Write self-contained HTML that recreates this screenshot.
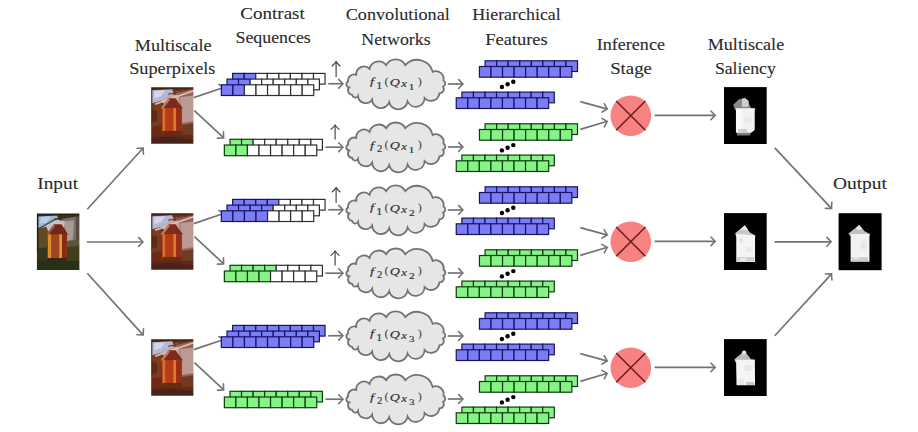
<!DOCTYPE html><html><head><meta charset="utf-8"><style>html,body{margin:0;padding:0;background:#fff;width:918px;height:432px;overflow:hidden;position:relative}</style></head><body><svg width="918" height="432" viewBox="0 0 918 432" style="position:absolute;left:0;top:0;font-family:'Liberation Serif',serif">
<defs><filter id="blur" x="-10%" y="-10%" width="120%" height="120%"><feGaussianBlur stdDeviation="0.75"/></filter><filter id="blur2" x="-20%" y="-20%" width="140%" height="140%"><feGaussianBlur stdDeviation="0.6"/></filter></defs>
<rect width="918" height="432" fill="#ffffff"/>
<text x="240.30" y="19.20" font-size="16.5" textLength="64.50" lengthAdjust="spacingAndGlyphs" fill="#2a2a2a" stroke="#2a2a2a" stroke-width="0.1" >Contrast</text>
<text x="235.50" y="43.10" font-size="16.5" textLength="75.30" lengthAdjust="spacingAndGlyphs" fill="#2a2a2a" stroke="#2a2a2a" stroke-width="0.1" >Sequences</text>
<text x="345.70" y="20.00" font-size="16.5" textLength="104.10" lengthAdjust="spacingAndGlyphs" fill="#2a2a2a" stroke="#2a2a2a" stroke-width="0.1" >Convolutional</text>
<text x="361.30" y="44.90" font-size="16.5" textLength="69.30" lengthAdjust="spacingAndGlyphs" fill="#2a2a2a" stroke="#2a2a2a" stroke-width="0.1" >Networks</text>
<text x="472.30" y="20.00" font-size="16.5" textLength="88.50" lengthAdjust="spacingAndGlyphs" fill="#2a2a2a" stroke="#2a2a2a" stroke-width="0.1" >Hierarchical</text>
<text x="485.20" y="44.70" font-size="16.5" textLength="62.50" lengthAdjust="spacingAndGlyphs" fill="#2a2a2a" stroke="#2a2a2a" stroke-width="0.1" >Features</text>
<text x="134.80" y="50.80" font-size="16.5" textLength="76.70" lengthAdjust="spacingAndGlyphs" fill="#2a2a2a" stroke="#2a2a2a" stroke-width="0.1" >Multiscale</text>
<text x="129.20" y="74.40" font-size="16.5" textLength="86.30" lengthAdjust="spacingAndGlyphs" fill="#2a2a2a" stroke="#2a2a2a" stroke-width="0.1" >Superpixels</text>
<text x="596.80" y="50.40" font-size="16.5" textLength="68.10" lengthAdjust="spacingAndGlyphs" fill="#2a2a2a" stroke="#2a2a2a" stroke-width="0.1" >Inference</text>
<text x="610.20" y="74.40" font-size="16.5" textLength="41.70" lengthAdjust="spacingAndGlyphs" fill="#2a2a2a" stroke="#2a2a2a" stroke-width="0.1" >Stage</text>
<text x="707.70" y="50.40" font-size="16.5" textLength="76.50" lengthAdjust="spacingAndGlyphs" fill="#2a2a2a" stroke="#2a2a2a" stroke-width="0.1" >Multiscale</text>
<text x="714.90" y="74.40" font-size="16.5" textLength="60.90" lengthAdjust="spacingAndGlyphs" fill="#2a2a2a" stroke="#2a2a2a" stroke-width="0.1" >Saliency</text>
<text x="37.30" y="189.00" font-size="17" textLength="40.70" lengthAdjust="spacingAndGlyphs" fill="#2a2a2a" stroke="#2a2a2a" stroke-width="0.1" >Input</text>
<text x="832.90" y="189.00" font-size="17" textLength="54.10" lengthAdjust="spacingAndGlyphs" fill="#2a2a2a" stroke="#2a2a2a" stroke-width="0.1" >Output</text>
<clipPath id="clip17"><rect x="0" y="0" width="42.5" height="57"/></clipPath>
<g transform="translate(36.90,213.50) scale(1.0000,0.9912)" clip-path="url(#clip17)"><g filter="url(#blur)">
<rect x="-2" y="-2" width="47" height="61" fill="#34341a"/>
<path d="M-2,12 L12,14 L10,34 L-2,36 Z" fill="#5e4c22"/>
<path d="M24,4 L44,2 L44,32 L30,34 L28,18 Z" fill="#7c7068"/>
<path d="M27,8 L37,7 L36,26 L30,28 Z" fill="#a89c98"/>
<rect x="39" y="-2" width="6" height="61" fill="#4a3c2c" opacity="0.7"/>
<path d="M30,28 L44,26 L44,36 L31,38 Z" fill="#5a5640"/>
<path d="M30,34 L44,32 L44,50 L30,50 Z" fill="#42401f"/>
<path d="M1,3 L20,2 L22,6 L12,13 L1,15 Z" fill="#9ab8d8"/>
<path d="M4,4 L14,3 L10,9 L3,10 Z" fill="#b6d0ea"/>
<path d="M9,12 L20,6 L28,8 L27,18 L12,20 Z" fill="#c8c0bc"/>
<path d="M-2,-2 L44,-2 L44,1.5 L-2,2 Z" fill="#2a2018"/>
<line x1="17" y1="6" x2="44" y2="1.5" stroke="#3a2c22" stroke-width="1.6"/>
<line x1="-1" y1="17" x2="18" y2="6" stroke="#4a3a2a" stroke-width="1.2"/>
<rect x="-2" y="-2" width="3.5" height="40" fill="#241c12"/>
<rect x="-2" y="48" width="47" height="11" fill="#263014"/>
<path d="M17.2,10.8 L24.6,10.8 L31.4,21.5 L9.4,21 Z" fill="#74281a"/>
<path d="M17.2,10.8 L9.4,21 L12,21 L18.5,12.5 Z" fill="#9a5a4c"/>
<rect x="10.9" y="21" width="19" height="24" fill="#9c4620"/>
<rect x="10.9" y="21" width="3.3" height="24" fill="#dc8c2c"/>
<rect x="22.4" y="21" width="2.7" height="24" fill="#e49a30"/>
<rect x="25.1" y="21" width="4.8" height="24" fill="#882c12"/>
<rect x="10.9" y="44.9" width="19" height="4" fill="#3a2612"/>
</g></g>
<clipPath id="clip42"><rect x="0" y="0" width="42.5" height="57"/></clipPath>
<g transform="translate(151.20,87.30) scale(0.9929,0.9912)" clip-path="url(#clip42)"><g filter="url(#blur)">
<rect x="-2" y="-2" width="47" height="61" fill="#6a2c18"/>
<path d="M-2,14 L11,17 L10,38 L-2,40 Z" fill="#7c3a1e"/>
<path d="M-2,22 L6,24 L6,34 L-2,36 Z" fill="#5c2c16"/>
<path d="M24,4 L44,2 L44,40 L31,42 L28,18 Z" fill="#94645a"/>
<path d="M29,10 L44,8 L44,34 L31,36 Z" fill="#bc9a94"/>
<path d="M31,38 L44,36 L44,50 L31,50 Z" fill="#703a24"/>
<path d="M1,3 L21,2 L23,6 L12,13 L1,16 Z" fill="#b4b8d8"/>
<path d="M3,4 L14,3 L10,9 L3,11 Z" fill="#d4d6ee"/>
<path d="M-2,-2 L44,-2 L44,1.5 L-2,2 Z" fill="#44200f"/>
<path d="M10,13 L20,7 L28,8 L29,18 L14,19 Z" fill="#c8a8a4"/>
<line x1="4" y1="17" x2="44" y2="3" stroke="#dcc0b8" stroke-width="1.8"/>
<line x1="17" y1="7" x2="44" y2="1" stroke="#6a3a28" stroke-width="1.2"/>
<rect x="-2" y="-2" width="3" height="40" fill="#3e1e10"/>
<rect x="-2" y="48" width="47" height="11" fill="#5e2a18"/>
<path d="M-2,51 L20,50 L44,53 L44,59 L-2,59 Z" fill="#48241a"/>
<path d="M17.5,11 L24.5,11 L32,21.5 L9.2,21.5 Z" fill="#7e2c1c"/>
<path d="M17.5,11 L9.2,21.5 L12,21.5 L18.8,12.5 Z" fill="#c08070"/>
<rect x="11.3" y="21" width="19.4" height="26" fill="#b43e18"/>
<rect x="11.3" y="21" width="2.8" height="26" fill="#dc6c30"/>
<rect x="22.4" y="21" width="2.8" height="26" fill="#e27836"/>
<rect x="25.2" y="21" width="5.5" height="26" fill="#982e14"/>
<rect x="11.3" y="44" width="19.4" height="4" fill="#6a2a12"/>
</g></g>
<g transform="translate(724.00,87.10) scale(1.0047,0.9982)">
<rect x="0" y="0" width="42.5" height="57" fill="#000"/>
<g filter="url(#blur2)">
<path d="M9.2,17.6 L14.6,12.3 L19.9,11.0 L23.6,13.9 L26.8,20.8 L31.6,21.9 L31,23 L11,23 Z" fill="#8a8a8a"/>
<path d="M17.8,12 L21,11 L24.7,14 L24,19.7 L18,19.7 Z" fill="#cfcfcf"/>
<path d="M12.4,40 L27.4,40 L26,48.5 L13,48.5 Z" fill="#7a7a7a"/>
<path d="M11.9,21.3 L30.6,21.3 L30.6,43 L27,45.8 L11.9,45.8 Z" fill="#f2f2f2"/>
<rect x="12" y="22" width="5" height="22" fill="#fafafa"/>
<rect x="20" y="30" width="7" height="6" fill="#e8e8e8"/>
<rect x="14" y="42" width="9" height="3" fill="#d0d0d0"/>
</g></g>
<clipPath id="clip78"><rect x="0" y="0" width="42.5" height="57"/></clipPath>
<g transform="translate(151.20,213.30) scale(0.9929,0.9912)" clip-path="url(#clip78)"><g filter="url(#blur)">
<rect x="-2" y="-2" width="47" height="61" fill="#6a2c18"/>
<path d="M-2,14 L11,17 L10,38 L-2,40 Z" fill="#7c3a1e"/>
<path d="M-2,22 L6,24 L6,34 L-2,36 Z" fill="#5c2c16"/>
<path d="M24,4 L44,2 L44,40 L31,42 L28,18 Z" fill="#94645a"/>
<path d="M29,10 L44,8 L44,34 L31,36 Z" fill="#bc9a94"/>
<path d="M31,38 L44,36 L44,50 L31,50 Z" fill="#703a24"/>
<path d="M1,3 L21,2 L23,6 L12,13 L1,16 Z" fill="#b4b8d8"/>
<path d="M3,4 L14,3 L10,9 L3,11 Z" fill="#d4d6ee"/>
<path d="M-2,-2 L44,-2 L44,1.5 L-2,2 Z" fill="#44200f"/>
<path d="M10,13 L20,7 L28,8 L29,18 L14,19 Z" fill="#c8a8a4"/>
<line x1="4" y1="17" x2="44" y2="3" stroke="#dcc0b8" stroke-width="1.8"/>
<line x1="17" y1="7" x2="44" y2="1" stroke="#6a3a28" stroke-width="1.2"/>
<rect x="-2" y="-2" width="3" height="40" fill="#3e1e10"/>
<rect x="-2" y="48" width="47" height="11" fill="#5e2a18"/>
<path d="M-2,51 L20,50 L44,53 L44,59 L-2,59 Z" fill="#48241a"/>
<path d="M17.5,11 L24.5,11 L32,21.5 L9.2,21.5 Z" fill="#7e2c1c"/>
<path d="M17.5,11 L9.2,21.5 L12,21.5 L18.8,12.5 Z" fill="#c08070"/>
<rect x="11.3" y="21" width="19.4" height="26" fill="#b43e18"/>
<rect x="11.3" y="21" width="2.8" height="26" fill="#dc6c30"/>
<rect x="22.4" y="21" width="2.8" height="26" fill="#e27836"/>
<rect x="25.2" y="21" width="5.5" height="26" fill="#982e14"/>
<rect x="11.3" y="44" width="19.4" height="4" fill="#6a2a12"/>
</g></g>
<g transform="translate(724.00,213.10) scale(1.0047,0.9982)">
<rect x="0" y="0" width="42.5" height="57" fill="#000"/>
<g filter="url(#blur2)">
<path d="M11.1,20.1 L20.7,12.1 L25.5,19.1 L31.4,22.8 L30.9,24 L12.2,24 Z" fill="#c8c8c8"/>
<path d="M16,17 L20.7,12.1 L24,17 Z" fill="#eaeaea"/>
<path d="M12.2,20.8 L30.9,22.5 L30.9,48.9 L12.2,48.9 Z" fill="#f4f4f4"/>
<rect x="15" y="25" width="4" height="5" fill="#e6e6e6"/>
<rect x="22" y="34" width="6" height="5" fill="#eaeaea"/>
<rect x="13" y="44" width="17" height="4.5" fill="#d0d0d0"/>
<rect x="16" y="45" width="6" height="3" fill="#e8e8e8"/>
</g></g>
<clipPath id="clip114"><rect x="0" y="0" width="42.5" height="57"/></clipPath>
<g transform="translate(151.20,339.30) scale(0.9929,0.9912)" clip-path="url(#clip114)"><g filter="url(#blur)">
<rect x="-2" y="-2" width="47" height="61" fill="#6a2c18"/>
<path d="M-2,14 L11,17 L10,38 L-2,40 Z" fill="#7c3a1e"/>
<path d="M-2,22 L6,24 L6,34 L-2,36 Z" fill="#5c2c16"/>
<path d="M24,4 L44,2 L44,40 L31,42 L28,18 Z" fill="#94645a"/>
<path d="M29,10 L44,8 L44,34 L31,36 Z" fill="#bc9a94"/>
<path d="M31,38 L44,36 L44,50 L31,50 Z" fill="#703a24"/>
<path d="M1,3 L21,2 L23,6 L12,13 L1,16 Z" fill="#b4b8d8"/>
<path d="M3,4 L14,3 L10,9 L3,11 Z" fill="#d4d6ee"/>
<path d="M-2,-2 L44,-2 L44,1.5 L-2,2 Z" fill="#44200f"/>
<path d="M10,13 L20,7 L28,8 L29,18 L14,19 Z" fill="#c8a8a4"/>
<line x1="4" y1="17" x2="44" y2="3" stroke="#dcc0b8" stroke-width="1.8"/>
<line x1="17" y1="7" x2="44" y2="1" stroke="#6a3a28" stroke-width="1.2"/>
<rect x="-2" y="-2" width="3" height="40" fill="#3e1e10"/>
<rect x="-2" y="48" width="47" height="11" fill="#5e2a18"/>
<path d="M-2,51 L20,50 L44,53 L44,59 L-2,59 Z" fill="#48241a"/>
<path d="M17.5,11 L24.5,11 L32,21.5 L9.2,21.5 Z" fill="#7e2c1c"/>
<path d="M17.5,11 L9.2,21.5 L12,21.5 L18.8,12.5 Z" fill="#c08070"/>
<rect x="11.3" y="21" width="19.4" height="26" fill="#b43e18"/>
<rect x="11.3" y="21" width="2.8" height="26" fill="#dc6c30"/>
<rect x="22.4" y="21" width="2.8" height="26" fill="#e27836"/>
<rect x="25.2" y="21" width="5.5" height="26" fill="#982e14"/>
<rect x="11.3" y="44" width="19.4" height="4" fill="#6a2a12"/>
</g></g>
<g transform="translate(724.00,339.10) scale(1.0047,0.9982)">
<rect x="0" y="0" width="42.5" height="57" fill="#000"/>
<g filter="url(#blur2)">
<path d="M10.4,20.2 L20,12.2 L22,14 L26.9,20.2 L30.7,20.7 L30.7,23 L11,23 Z" fill="#bcbcbc"/>
<circle cx="20" cy="13.5" r="2.2" fill="#e0e0e0"/>
<path d="M12,20.7 L30.7,20.7 L30.9,46.3 L12.5,46.3 Z" fill="#f4f4f4"/>
<rect x="20" y="26" width="7" height="6" fill="#e8e8e8"/>
<rect x="14" y="40" width="6" height="6" fill="#eaeaea"/>
<rect x="22" y="43" width="8" height="3" fill="#c8c8c8"/>
</g></g>
<g transform="translate(838.60,213.20) scale(1.0118,1.0000)">
<rect x="0" y="0" width="42.5" height="57" fill="#000"/>
<g filter="url(#blur2)">
<path d="M9.7,20.3 L20.4,11.7 L25.7,18.1 L31,20.8 L30.5,23 L11.9,23 Z" fill="#c0c0c0"/>
<path d="M17,15 L20.4,11.7 L23.5,15.5 L20,17 Z" fill="#e6e6e6"/>
<path d="M11.9,20.8 L30.5,20.8 L30.5,48.5 L11.9,48.5 Z" fill="#f2f2f2"/>
<rect x="22" y="28" width="6" height="8" fill="#e8e8e8"/>
<rect x="13" y="44" width="16" height="4" fill="#cccccc"/>
<rect x="15" y="44" width="5" height="2" fill="#e6e6e6"/>
</g></g>
<line x1="87.30" y1="209.20" x2="142.76" y2="148.51" stroke="#737373" stroke-width="1.7"/>
<path transform="translate(143.16,148.07) rotate(-47.58)" d="M-4.3,-4.4 Q-1.4,-1.3 0,0 Q-1.4,1.3 -4.3,4.4" fill="none" stroke="#737373" stroke-width="1.55" stroke-linecap="round"/>
<line x1="86.90" y1="242.00" x2="142.40" y2="242.00" stroke="#737373" stroke-width="1.7"/>
<path transform="translate(143.00,242.00) rotate(0.00)" d="M-4.3,-4.4 Q-1.4,-1.3 0,0 Q-1.4,1.3 -4.3,4.4" fill="none" stroke="#737373" stroke-width="1.55" stroke-linecap="round"/>
<line x1="87.30" y1="273.30" x2="142.76" y2="334.58" stroke="#737373" stroke-width="1.7"/>
<path transform="translate(143.16,335.03) rotate(47.86)" d="M-4.3,-4.4 Q-1.4,-1.3 0,0 Q-1.4,1.3 -4.3,4.4" fill="none" stroke="#737373" stroke-width="1.55" stroke-linecap="round"/>
<line x1="193.70" y1="97.60" x2="223.76" y2="87.55" stroke="#737373" stroke-width="1.7"/>
<path transform="translate(224.33,87.36) rotate(-18.49)" d="M-4.3,-4.4 Q-1.4,-1.3 0,0 Q-1.4,1.3 -4.3,4.4" fill="none" stroke="#737373" stroke-width="1.55" stroke-linecap="round"/>
<line x1="194.40" y1="110.60" x2="223.20" y2="137.45" stroke="#737373" stroke-width="1.7"/>
<path transform="translate(223.63,137.86) rotate(43.00)" d="M-4.3,-4.4 Q-1.4,-1.3 0,0 Q-1.4,1.3 -4.3,4.4" fill="none" stroke="#737373" stroke-width="1.55" stroke-linecap="round"/>
<rect x="232.65" y="73.40" width="11.55" height="10.70" fill="#7c7cf6" stroke="#141462" stroke-width="1.2"/>
<rect x="244.20" y="73.40" width="11.55" height="10.70" fill="#7c7cf6" stroke="#141462" stroke-width="1.2"/>
<rect x="255.75" y="73.40" width="11.55" height="10.70" fill="#ffffff" stroke="#2e2e2e" stroke-width="1.2"/>
<rect x="267.30" y="73.40" width="11.55" height="10.70" fill="#ffffff" stroke="#2e2e2e" stroke-width="1.2"/>
<rect x="278.85" y="73.40" width="11.55" height="10.70" fill="#ffffff" stroke="#2e2e2e" stroke-width="1.2"/>
<rect x="290.40" y="73.40" width="11.55" height="10.70" fill="#ffffff" stroke="#2e2e2e" stroke-width="1.2"/>
<rect x="301.95" y="73.40" width="11.55" height="10.70" fill="#ffffff" stroke="#2e2e2e" stroke-width="1.2"/>
<rect x="313.50" y="73.40" width="11.55" height="10.70" fill="#ffffff" stroke="#2e2e2e" stroke-width="1.2"/>
<rect x="227.00" y="79.10" width="11.55" height="10.70" fill="#7c7cf6" stroke="#141462" stroke-width="1.2"/>
<rect x="238.55" y="79.10" width="11.55" height="10.70" fill="#7c7cf6" stroke="#141462" stroke-width="1.2"/>
<rect x="250.10" y="79.10" width="11.55" height="10.70" fill="#ffffff" stroke="#2e2e2e" stroke-width="1.2"/>
<rect x="261.65" y="79.10" width="11.55" height="10.70" fill="#ffffff" stroke="#2e2e2e" stroke-width="1.2"/>
<rect x="273.20" y="79.10" width="11.55" height="10.70" fill="#ffffff" stroke="#2e2e2e" stroke-width="1.2"/>
<rect x="284.75" y="79.10" width="11.55" height="10.70" fill="#ffffff" stroke="#2e2e2e" stroke-width="1.2"/>
<rect x="296.30" y="79.10" width="11.55" height="10.70" fill="#ffffff" stroke="#2e2e2e" stroke-width="1.2"/>
<rect x="307.85" y="79.10" width="11.55" height="10.70" fill="#ffffff" stroke="#2e2e2e" stroke-width="1.2"/>
<rect x="221.35" y="84.80" width="11.55" height="10.70" fill="#7c7cf6" stroke="#141462" stroke-width="1.2"/>
<rect x="232.90" y="84.80" width="11.55" height="10.70" fill="#7c7cf6" stroke="#141462" stroke-width="1.2"/>
<rect x="244.45" y="84.80" width="11.55" height="10.70" fill="#ffffff" stroke="#2e2e2e" stroke-width="1.2"/>
<rect x="256.00" y="84.80" width="11.55" height="10.70" fill="#ffffff" stroke="#2e2e2e" stroke-width="1.2"/>
<rect x="267.55" y="84.80" width="11.55" height="10.70" fill="#ffffff" stroke="#2e2e2e" stroke-width="1.2"/>
<rect x="279.10" y="84.80" width="11.55" height="10.70" fill="#ffffff" stroke="#2e2e2e" stroke-width="1.2"/>
<rect x="290.65" y="84.80" width="11.55" height="10.70" fill="#ffffff" stroke="#2e2e2e" stroke-width="1.2"/>
<rect x="302.20" y="84.80" width="11.55" height="10.70" fill="#ffffff" stroke="#2e2e2e" stroke-width="1.2"/>
<rect x="230.00" y="139.30" width="11.55" height="10.70" fill="#86f386" stroke="#0f3a0f" stroke-width="1.2"/>
<rect x="241.55" y="139.30" width="11.55" height="10.70" fill="#86f386" stroke="#0f3a0f" stroke-width="1.2"/>
<rect x="253.10" y="139.30" width="11.55" height="10.70" fill="#ffffff" stroke="#2e2e2e" stroke-width="1.2"/>
<rect x="264.65" y="139.30" width="11.55" height="10.70" fill="#ffffff" stroke="#2e2e2e" stroke-width="1.2"/>
<rect x="276.20" y="139.30" width="11.55" height="10.70" fill="#ffffff" stroke="#2e2e2e" stroke-width="1.2"/>
<rect x="287.75" y="139.30" width="11.55" height="10.70" fill="#ffffff" stroke="#2e2e2e" stroke-width="1.2"/>
<rect x="299.30" y="139.30" width="11.55" height="10.70" fill="#ffffff" stroke="#2e2e2e" stroke-width="1.2"/>
<rect x="310.85" y="139.30" width="11.55" height="10.70" fill="#ffffff" stroke="#2e2e2e" stroke-width="1.2"/>
<rect x="224.35" y="145.00" width="11.55" height="10.70" fill="#86f386" stroke="#0f3a0f" stroke-width="1.2"/>
<rect x="235.90" y="145.00" width="11.55" height="10.70" fill="#86f386" stroke="#0f3a0f" stroke-width="1.2"/>
<rect x="247.45" y="145.00" width="11.55" height="10.70" fill="#ffffff" stroke="#2e2e2e" stroke-width="1.2"/>
<rect x="259.00" y="145.00" width="11.55" height="10.70" fill="#ffffff" stroke="#2e2e2e" stroke-width="1.2"/>
<rect x="270.55" y="145.00" width="11.55" height="10.70" fill="#ffffff" stroke="#2e2e2e" stroke-width="1.2"/>
<rect x="282.10" y="145.00" width="11.55" height="10.70" fill="#ffffff" stroke="#2e2e2e" stroke-width="1.2"/>
<rect x="293.65" y="145.00" width="11.55" height="10.70" fill="#ffffff" stroke="#2e2e2e" stroke-width="1.2"/>
<rect x="305.20" y="145.00" width="11.55" height="10.70" fill="#ffffff" stroke="#2e2e2e" stroke-width="1.2"/>
<line x1="336.1" y1="76.9" x2="336.1" y2="62.1" stroke="#383838" stroke-width="1.1"/>
<path transform="translate(336.1,61.6)" d="M-4.0,4.4 Q-1.2,1.8 0,0 Q1.2,1.8 4.0,4.4" fill="none" stroke="#383838" stroke-width="1.1" stroke-linecap="round"/>
<line x1="335.1" y1="139.6" x2="335.1" y2="125.5" stroke="#383838" stroke-width="1.1"/>
<path transform="translate(335.1,125.0)" d="M-4.0,4.4 Q-1.2,1.8 0,0 Q1.2,1.8 4.0,4.4" fill="none" stroke="#383838" stroke-width="1.1" stroke-linecap="round"/>
<line x1="328.20" y1="83.75" x2="342.40" y2="83.75" stroke="#737373" stroke-width="1.7"/>
<path transform="translate(343.00,83.75) rotate(0.00)" d="M-4.3,-4.4 Q-1.4,-1.3 0,0 Q-1.4,1.3 -4.3,4.4" fill="none" stroke="#737373" stroke-width="1.55" stroke-linecap="round"/>
<line x1="325.40" y1="147.20" x2="342.40" y2="147.20" stroke="#737373" stroke-width="1.7"/>
<path transform="translate(343.00,147.20) rotate(0.00)" d="M-4.3,-4.4 Q-1.4,-1.3 0,0 Q-1.4,1.3 -4.3,4.4" fill="none" stroke="#737373" stroke-width="1.55" stroke-linecap="round"/>
<path d="M348.10,81.50 A6.10,6.10 0 0 1 356.20,74.80 A7.83,7.83 0 0 1 369.60,68.80 A9.40,9.40 0 0 1 386.20,65.10 A10.85,10.85 0 0 1 405.30,65.10 A16.04,16.04 0 0 1 432.70,71.80 A7.82,7.82 0 0 1 443.50,80.50 A3.41,3.41 0 0 1 443.10,86.70 A4.18,4.18 0 0 1 439.40,93.30 A8.55,8.55 0 0 1 424.60,98.10 A8.89,8.89 0 0 1 407.60,101.50 A9.40,9.40 0 0 1 389.20,102.20 A8.79,8.79 0 0 1 372.10,99.60 A7.66,7.66 0 0 1 358.00,95.90 A3.15,3.15 0 0 1 352.10,94.80 A4.41,4.41 0 0 1 349.20,87.40 A3.11,3.11 0 0 1 348.10,81.50 Z" fill="#e6e6e6" stroke="#737373" stroke-width="1.8"/>
<text transform="translate(370.05,85.40) scale(0.1455,0.1022)" font-size="100" font-style="italic" fill="#333333" stroke="#333333" stroke-width="1.5">f</text>
<text transform="translate(376.37,88.60) scale(0.1211,0.1000)" font-size="100" fill="#333333" stroke="#333333" stroke-width="1.5">1</text>
<text transform="translate(384.84,85.38) scale(0.1020,0.1033)" font-size="100" fill="#333333" stroke="#333333" stroke-width="1.5">(</text>
<text transform="translate(389.73,85.52) scale(0.1400,0.1110)" font-size="100" font-style="italic" fill="#333333" stroke="#333333" stroke-width="1.5">Q</text>
<text transform="translate(401.19,87.30) scale(0.1289,0.0935)" font-size="100" font-style="italic" fill="#333333" stroke="#333333" stroke-width="1.5">x</text>
<text transform="translate(408.30,90.30) scale(0.1296,0.0848)" font-size="100" fill="#333333" stroke="#333333" stroke-width="1.5">1</text>
<text transform="translate(418.30,85.38) scale(0.1000,0.1033)" font-size="100" fill="#333333" stroke="#333333" stroke-width="1.5">)</text>
<path d="M348.10,144.60 A6.10,6.10 0 0 1 356.20,137.90 A7.83,7.83 0 0 1 369.60,131.90 A9.40,9.40 0 0 1 386.20,128.20 A10.85,10.85 0 0 1 405.30,128.20 A16.04,16.04 0 0 1 432.70,134.90 A7.82,7.82 0 0 1 443.50,143.60 A3.41,3.41 0 0 1 443.10,149.80 A4.18,4.18 0 0 1 439.40,156.40 A8.55,8.55 0 0 1 424.60,161.20 A8.89,8.89 0 0 1 407.60,164.60 A9.40,9.40 0 0 1 389.20,165.30 A8.79,8.79 0 0 1 372.10,162.70 A7.66,7.66 0 0 1 358.00,159.00 A3.15,3.15 0 0 1 352.10,157.90 A4.41,4.41 0 0 1 349.20,150.50 A3.11,3.11 0 0 1 348.10,144.60 Z" fill="#e6e6e6" stroke="#737373" stroke-width="1.8"/>
<text transform="translate(370.05,148.50) scale(0.1455,0.1022)" font-size="100" font-style="italic" fill="#333333" stroke="#333333" stroke-width="1.5">f</text>
<text transform="translate(376.92,151.70) scale(0.1075,0.1000)" font-size="100" fill="#333333" stroke="#333333" stroke-width="1.5">2</text>
<text transform="translate(384.84,148.48) scale(0.1020,0.1033)" font-size="100" fill="#333333" stroke="#333333" stroke-width="1.5">(</text>
<text transform="translate(389.73,148.62) scale(0.1400,0.1110)" font-size="100" font-style="italic" fill="#333333" stroke="#333333" stroke-width="1.5">Q</text>
<text transform="translate(401.19,150.40) scale(0.1289,0.0935)" font-size="100" font-style="italic" fill="#333333" stroke="#333333" stroke-width="1.5">x</text>
<text transform="translate(408.30,153.40) scale(0.1296,0.0848)" font-size="100" fill="#333333" stroke="#333333" stroke-width="1.5">1</text>
<text transform="translate(418.30,148.48) scale(0.1000,0.1033)" font-size="100" fill="#333333" stroke="#333333" stroke-width="1.5">)</text>
<line x1="447.80" y1="84.00" x2="462.40" y2="84.00" stroke="#737373" stroke-width="1.7"/>
<path transform="translate(463.00,84.00) rotate(0.00)" d="M-4.3,-4.4 Q-1.4,-1.3 0,0 Q-1.4,1.3 -4.3,4.4" fill="none" stroke="#737373" stroke-width="1.55" stroke-linecap="round"/>
<line x1="447.80" y1="147.00" x2="462.40" y2="147.00" stroke="#737373" stroke-width="1.7"/>
<path transform="translate(463.00,147.00) rotate(0.00)" d="M-4.3,-4.4 Q-1.4,-1.3 0,0 Q-1.4,1.3 -4.3,4.4" fill="none" stroke="#737373" stroke-width="1.55" stroke-linecap="round"/>
<rect x="485.10" y="60.80" width="11.55" height="10.70" fill="#7c7cf6" stroke="#141462" stroke-width="1.2"/>
<rect x="496.65" y="60.80" width="11.55" height="10.70" fill="#7c7cf6" stroke="#141462" stroke-width="1.2"/>
<rect x="508.20" y="60.80" width="11.55" height="10.70" fill="#7c7cf6" stroke="#141462" stroke-width="1.2"/>
<rect x="519.75" y="60.80" width="11.55" height="10.70" fill="#7c7cf6" stroke="#141462" stroke-width="1.2"/>
<rect x="531.30" y="60.80" width="11.55" height="10.70" fill="#7c7cf6" stroke="#141462" stroke-width="1.2"/>
<rect x="542.85" y="60.80" width="11.55" height="10.70" fill="#7c7cf6" stroke="#141462" stroke-width="1.2"/>
<rect x="554.40" y="60.80" width="11.55" height="10.70" fill="#7c7cf6" stroke="#141462" stroke-width="1.2"/>
<rect x="565.95" y="60.80" width="11.55" height="10.70" fill="#7c7cf6" stroke="#141462" stroke-width="1.2"/>
<rect x="479.45" y="66.50" width="11.55" height="10.70" fill="#7c7cf6" stroke="#141462" stroke-width="1.2"/>
<rect x="491.00" y="66.50" width="11.55" height="10.70" fill="#7c7cf6" stroke="#141462" stroke-width="1.2"/>
<rect x="502.55" y="66.50" width="11.55" height="10.70" fill="#7c7cf6" stroke="#141462" stroke-width="1.2"/>
<rect x="514.10" y="66.50" width="11.55" height="10.70" fill="#7c7cf6" stroke="#141462" stroke-width="1.2"/>
<rect x="525.65" y="66.50" width="11.55" height="10.70" fill="#7c7cf6" stroke="#141462" stroke-width="1.2"/>
<rect x="537.20" y="66.50" width="11.55" height="10.70" fill="#7c7cf6" stroke="#141462" stroke-width="1.2"/>
<rect x="548.75" y="66.50" width="11.55" height="10.70" fill="#7c7cf6" stroke="#141462" stroke-width="1.2"/>
<rect x="560.30" y="66.50" width="11.55" height="10.70" fill="#7c7cf6" stroke="#141462" stroke-width="1.2"/>
<rect x="461.90" y="92.10" width="11.55" height="10.70" fill="#7c7cf6" stroke="#141462" stroke-width="1.2"/>
<rect x="473.45" y="92.10" width="11.55" height="10.70" fill="#7c7cf6" stroke="#141462" stroke-width="1.2"/>
<rect x="485.00" y="92.10" width="11.55" height="10.70" fill="#7c7cf6" stroke="#141462" stroke-width="1.2"/>
<rect x="496.55" y="92.10" width="11.55" height="10.70" fill="#7c7cf6" stroke="#141462" stroke-width="1.2"/>
<rect x="508.10" y="92.10" width="11.55" height="10.70" fill="#7c7cf6" stroke="#141462" stroke-width="1.2"/>
<rect x="519.65" y="92.10" width="11.55" height="10.70" fill="#7c7cf6" stroke="#141462" stroke-width="1.2"/>
<rect x="531.20" y="92.10" width="11.55" height="10.70" fill="#7c7cf6" stroke="#141462" stroke-width="1.2"/>
<rect x="542.75" y="92.10" width="11.55" height="10.70" fill="#7c7cf6" stroke="#141462" stroke-width="1.2"/>
<rect x="456.25" y="97.80" width="11.55" height="10.70" fill="#7c7cf6" stroke="#141462" stroke-width="1.2"/>
<rect x="467.80" y="97.80" width="11.55" height="10.70" fill="#7c7cf6" stroke="#141462" stroke-width="1.2"/>
<rect x="479.35" y="97.80" width="11.55" height="10.70" fill="#7c7cf6" stroke="#141462" stroke-width="1.2"/>
<rect x="490.90" y="97.80" width="11.55" height="10.70" fill="#7c7cf6" stroke="#141462" stroke-width="1.2"/>
<rect x="502.45" y="97.80" width="11.55" height="10.70" fill="#7c7cf6" stroke="#141462" stroke-width="1.2"/>
<rect x="514.00" y="97.80" width="11.55" height="10.70" fill="#7c7cf6" stroke="#141462" stroke-width="1.2"/>
<rect x="525.55" y="97.80" width="11.55" height="10.70" fill="#7c7cf6" stroke="#141462" stroke-width="1.2"/>
<rect x="537.10" y="97.80" width="11.55" height="10.70" fill="#7c7cf6" stroke="#141462" stroke-width="1.2"/>
<rect x="485.10" y="123.80" width="11.55" height="10.70" fill="#86f386" stroke="#0f3a0f" stroke-width="1.2"/>
<rect x="496.65" y="123.80" width="11.55" height="10.70" fill="#86f386" stroke="#0f3a0f" stroke-width="1.2"/>
<rect x="508.20" y="123.80" width="11.55" height="10.70" fill="#86f386" stroke="#0f3a0f" stroke-width="1.2"/>
<rect x="519.75" y="123.80" width="11.55" height="10.70" fill="#86f386" stroke="#0f3a0f" stroke-width="1.2"/>
<rect x="531.30" y="123.80" width="11.55" height="10.70" fill="#86f386" stroke="#0f3a0f" stroke-width="1.2"/>
<rect x="542.85" y="123.80" width="11.55" height="10.70" fill="#86f386" stroke="#0f3a0f" stroke-width="1.2"/>
<rect x="554.40" y="123.80" width="11.55" height="10.70" fill="#86f386" stroke="#0f3a0f" stroke-width="1.2"/>
<rect x="565.95" y="123.80" width="11.55" height="10.70" fill="#86f386" stroke="#0f3a0f" stroke-width="1.2"/>
<rect x="479.45" y="129.50" width="11.55" height="10.70" fill="#86f386" stroke="#0f3a0f" stroke-width="1.2"/>
<rect x="491.00" y="129.50" width="11.55" height="10.70" fill="#86f386" stroke="#0f3a0f" stroke-width="1.2"/>
<rect x="502.55" y="129.50" width="11.55" height="10.70" fill="#86f386" stroke="#0f3a0f" stroke-width="1.2"/>
<rect x="514.10" y="129.50" width="11.55" height="10.70" fill="#86f386" stroke="#0f3a0f" stroke-width="1.2"/>
<rect x="525.65" y="129.50" width="11.55" height="10.70" fill="#86f386" stroke="#0f3a0f" stroke-width="1.2"/>
<rect x="537.20" y="129.50" width="11.55" height="10.70" fill="#86f386" stroke="#0f3a0f" stroke-width="1.2"/>
<rect x="548.75" y="129.50" width="11.55" height="10.70" fill="#86f386" stroke="#0f3a0f" stroke-width="1.2"/>
<rect x="560.30" y="129.50" width="11.55" height="10.70" fill="#86f386" stroke="#0f3a0f" stroke-width="1.2"/>
<rect x="461.90" y="155.10" width="11.55" height="10.70" fill="#86f386" stroke="#0f3a0f" stroke-width="1.2"/>
<rect x="473.45" y="155.10" width="11.55" height="10.70" fill="#86f386" stroke="#0f3a0f" stroke-width="1.2"/>
<rect x="485.00" y="155.10" width="11.55" height="10.70" fill="#86f386" stroke="#0f3a0f" stroke-width="1.2"/>
<rect x="496.55" y="155.10" width="11.55" height="10.70" fill="#86f386" stroke="#0f3a0f" stroke-width="1.2"/>
<rect x="508.10" y="155.10" width="11.55" height="10.70" fill="#86f386" stroke="#0f3a0f" stroke-width="1.2"/>
<rect x="519.65" y="155.10" width="11.55" height="10.70" fill="#86f386" stroke="#0f3a0f" stroke-width="1.2"/>
<rect x="531.20" y="155.10" width="11.55" height="10.70" fill="#86f386" stroke="#0f3a0f" stroke-width="1.2"/>
<rect x="542.75" y="155.10" width="11.55" height="10.70" fill="#86f386" stroke="#0f3a0f" stroke-width="1.2"/>
<rect x="456.25" y="160.80" width="11.55" height="10.70" fill="#86f386" stroke="#0f3a0f" stroke-width="1.2"/>
<rect x="467.80" y="160.80" width="11.55" height="10.70" fill="#86f386" stroke="#0f3a0f" stroke-width="1.2"/>
<rect x="479.35" y="160.80" width="11.55" height="10.70" fill="#86f386" stroke="#0f3a0f" stroke-width="1.2"/>
<rect x="490.90" y="160.80" width="11.55" height="10.70" fill="#86f386" stroke="#0f3a0f" stroke-width="1.2"/>
<rect x="502.45" y="160.80" width="11.55" height="10.70" fill="#86f386" stroke="#0f3a0f" stroke-width="1.2"/>
<rect x="514.00" y="160.80" width="11.55" height="10.70" fill="#86f386" stroke="#0f3a0f" stroke-width="1.2"/>
<rect x="525.55" y="160.80" width="11.55" height="10.70" fill="#86f386" stroke="#0f3a0f" stroke-width="1.2"/>
<rect x="537.10" y="160.80" width="11.55" height="10.70" fill="#86f386" stroke="#0f3a0f" stroke-width="1.2"/>
<circle cx="501.9" cy="87.00" r="2.2" fill="#000"/>
<circle cx="507.6" cy="84.30" r="2.2" fill="#000"/>
<circle cx="513.3" cy="81.70" r="2.2" fill="#000"/>
<circle cx="501.9" cy="150.40" r="2.2" fill="#000"/>
<circle cx="507.6" cy="147.70" r="2.2" fill="#000"/>
<circle cx="513.3" cy="145.10" r="2.2" fill="#000"/>
<line x1="580.30" y1="101.60" x2="606.64" y2="108.81" stroke="#737373" stroke-width="1.7"/>
<path transform="translate(607.22,108.97) rotate(15.31)" d="M-4.3,-4.4 Q-1.4,-1.3 0,0 Q-1.4,1.3 -4.3,4.4" fill="none" stroke="#737373" stroke-width="1.55" stroke-linecap="round"/>
<line x1="580.30" y1="129.40" x2="606.65" y2="121.56" stroke="#737373" stroke-width="1.7"/>
<path transform="translate(607.22,121.39) rotate(-16.56)" d="M-4.3,-4.4 Q-1.4,-1.3 0,0 Q-1.4,1.3 -4.3,4.4" fill="none" stroke="#737373" stroke-width="1.55" stroke-linecap="round"/>
<circle cx="630.8" cy="115.7" r="20.3" fill="#f88282"/>
<line x1="616.18" y1="101.08" x2="645.42" y2="130.32" stroke="#6e1c1c" stroke-width="1.5"/>
<line x1="645.42" y1="101.08" x2="616.18" y2="130.32" stroke="#6e1c1c" stroke-width="1.5"/>
<line x1="654.60" y1="115.40" x2="714.60" y2="115.40" stroke="#737373" stroke-width="1.7"/>
<path transform="translate(715.20,115.40) rotate(0.00)" d="M-4.3,-4.4 Q-1.4,-1.3 0,0 Q-1.4,1.3 -4.3,4.4" fill="none" stroke="#737373" stroke-width="1.55" stroke-linecap="round"/>
<line x1="193.70" y1="223.60" x2="223.76" y2="213.55" stroke="#737373" stroke-width="1.7"/>
<path transform="translate(224.33,213.36) rotate(-18.49)" d="M-4.3,-4.4 Q-1.4,-1.3 0,0 Q-1.4,1.3 -4.3,4.4" fill="none" stroke="#737373" stroke-width="1.55" stroke-linecap="round"/>
<line x1="194.40" y1="236.60" x2="223.20" y2="263.45" stroke="#737373" stroke-width="1.7"/>
<path transform="translate(223.63,263.86) rotate(43.00)" d="M-4.3,-4.4 Q-1.4,-1.3 0,0 Q-1.4,1.3 -4.3,4.4" fill="none" stroke="#737373" stroke-width="1.55" stroke-linecap="round"/>
<rect x="232.65" y="199.40" width="11.55" height="10.70" fill="#7c7cf6" stroke="#141462" stroke-width="1.2"/>
<rect x="244.20" y="199.40" width="11.55" height="10.70" fill="#7c7cf6" stroke="#141462" stroke-width="1.2"/>
<rect x="255.75" y="199.40" width="11.55" height="10.70" fill="#7c7cf6" stroke="#141462" stroke-width="1.2"/>
<rect x="267.30" y="199.40" width="11.55" height="10.70" fill="#7c7cf6" stroke="#141462" stroke-width="1.2"/>
<rect x="278.85" y="199.40" width="11.55" height="10.70" fill="#ffffff" stroke="#2e2e2e" stroke-width="1.2"/>
<rect x="290.40" y="199.40" width="11.55" height="10.70" fill="#ffffff" stroke="#2e2e2e" stroke-width="1.2"/>
<rect x="301.95" y="199.40" width="11.55" height="10.70" fill="#ffffff" stroke="#2e2e2e" stroke-width="1.2"/>
<rect x="313.50" y="199.40" width="11.55" height="10.70" fill="#ffffff" stroke="#2e2e2e" stroke-width="1.2"/>
<rect x="227.00" y="205.10" width="11.55" height="10.70" fill="#7c7cf6" stroke="#141462" stroke-width="1.2"/>
<rect x="238.55" y="205.10" width="11.55" height="10.70" fill="#7c7cf6" stroke="#141462" stroke-width="1.2"/>
<rect x="250.10" y="205.10" width="11.55" height="10.70" fill="#7c7cf6" stroke="#141462" stroke-width="1.2"/>
<rect x="261.65" y="205.10" width="11.55" height="10.70" fill="#7c7cf6" stroke="#141462" stroke-width="1.2"/>
<rect x="273.20" y="205.10" width="11.55" height="10.70" fill="#ffffff" stroke="#2e2e2e" stroke-width="1.2"/>
<rect x="284.75" y="205.10" width="11.55" height="10.70" fill="#ffffff" stroke="#2e2e2e" stroke-width="1.2"/>
<rect x="296.30" y="205.10" width="11.55" height="10.70" fill="#ffffff" stroke="#2e2e2e" stroke-width="1.2"/>
<rect x="307.85" y="205.10" width="11.55" height="10.70" fill="#ffffff" stroke="#2e2e2e" stroke-width="1.2"/>
<rect x="221.35" y="210.80" width="11.55" height="10.70" fill="#7c7cf6" stroke="#141462" stroke-width="1.2"/>
<rect x="232.90" y="210.80" width="11.55" height="10.70" fill="#7c7cf6" stroke="#141462" stroke-width="1.2"/>
<rect x="244.45" y="210.80" width="11.55" height="10.70" fill="#7c7cf6" stroke="#141462" stroke-width="1.2"/>
<rect x="256.00" y="210.80" width="11.55" height="10.70" fill="#7c7cf6" stroke="#141462" stroke-width="1.2"/>
<rect x="267.55" y="210.80" width="11.55" height="10.70" fill="#ffffff" stroke="#2e2e2e" stroke-width="1.2"/>
<rect x="279.10" y="210.80" width="11.55" height="10.70" fill="#ffffff" stroke="#2e2e2e" stroke-width="1.2"/>
<rect x="290.65" y="210.80" width="11.55" height="10.70" fill="#ffffff" stroke="#2e2e2e" stroke-width="1.2"/>
<rect x="302.20" y="210.80" width="11.55" height="10.70" fill="#ffffff" stroke="#2e2e2e" stroke-width="1.2"/>
<rect x="230.00" y="265.30" width="11.55" height="10.70" fill="#86f386" stroke="#0f3a0f" stroke-width="1.2"/>
<rect x="241.55" y="265.30" width="11.55" height="10.70" fill="#86f386" stroke="#0f3a0f" stroke-width="1.2"/>
<rect x="253.10" y="265.30" width="11.55" height="10.70" fill="#86f386" stroke="#0f3a0f" stroke-width="1.2"/>
<rect x="264.65" y="265.30" width="11.55" height="10.70" fill="#86f386" stroke="#0f3a0f" stroke-width="1.2"/>
<rect x="276.20" y="265.30" width="11.55" height="10.70" fill="#ffffff" stroke="#2e2e2e" stroke-width="1.2"/>
<rect x="287.75" y="265.30" width="11.55" height="10.70" fill="#ffffff" stroke="#2e2e2e" stroke-width="1.2"/>
<rect x="299.30" y="265.30" width="11.55" height="10.70" fill="#ffffff" stroke="#2e2e2e" stroke-width="1.2"/>
<rect x="310.85" y="265.30" width="11.55" height="10.70" fill="#ffffff" stroke="#2e2e2e" stroke-width="1.2"/>
<rect x="224.35" y="271.00" width="11.55" height="10.70" fill="#86f386" stroke="#0f3a0f" stroke-width="1.2"/>
<rect x="235.90" y="271.00" width="11.55" height="10.70" fill="#86f386" stroke="#0f3a0f" stroke-width="1.2"/>
<rect x="247.45" y="271.00" width="11.55" height="10.70" fill="#86f386" stroke="#0f3a0f" stroke-width="1.2"/>
<rect x="259.00" y="271.00" width="11.55" height="10.70" fill="#86f386" stroke="#0f3a0f" stroke-width="1.2"/>
<rect x="270.55" y="271.00" width="11.55" height="10.70" fill="#ffffff" stroke="#2e2e2e" stroke-width="1.2"/>
<rect x="282.10" y="271.00" width="11.55" height="10.70" fill="#ffffff" stroke="#2e2e2e" stroke-width="1.2"/>
<rect x="293.65" y="271.00" width="11.55" height="10.70" fill="#ffffff" stroke="#2e2e2e" stroke-width="1.2"/>
<rect x="305.20" y="271.00" width="11.55" height="10.70" fill="#ffffff" stroke="#2e2e2e" stroke-width="1.2"/>
<line x1="336.1" y1="202.9" x2="336.1" y2="188.1" stroke="#383838" stroke-width="1.1"/>
<path transform="translate(336.1,187.6)" d="M-4.0,4.4 Q-1.2,1.8 0,0 Q1.2,1.8 4.0,4.4" fill="none" stroke="#383838" stroke-width="1.1" stroke-linecap="round"/>
<line x1="335.1" y1="265.6" x2="335.1" y2="251.5" stroke="#383838" stroke-width="1.1"/>
<path transform="translate(335.1,251.0)" d="M-4.0,4.4 Q-1.2,1.8 0,0 Q1.2,1.8 4.0,4.4" fill="none" stroke="#383838" stroke-width="1.1" stroke-linecap="round"/>
<line x1="328.20" y1="209.75" x2="342.40" y2="209.75" stroke="#737373" stroke-width="1.7"/>
<path transform="translate(343.00,209.75) rotate(0.00)" d="M-4.3,-4.4 Q-1.4,-1.3 0,0 Q-1.4,1.3 -4.3,4.4" fill="none" stroke="#737373" stroke-width="1.55" stroke-linecap="round"/>
<line x1="325.40" y1="273.20" x2="342.40" y2="273.20" stroke="#737373" stroke-width="1.7"/>
<path transform="translate(343.00,273.20) rotate(0.00)" d="M-4.3,-4.4 Q-1.4,-1.3 0,0 Q-1.4,1.3 -4.3,4.4" fill="none" stroke="#737373" stroke-width="1.55" stroke-linecap="round"/>
<path d="M348.10,207.50 A6.10,6.10 0 0 1 356.20,200.80 A7.83,7.83 0 0 1 369.60,194.80 A9.40,9.40 0 0 1 386.20,191.10 A10.85,10.85 0 0 1 405.30,191.10 A16.04,16.04 0 0 1 432.70,197.80 A7.82,7.82 0 0 1 443.50,206.50 A3.41,3.41 0 0 1 443.10,212.70 A4.18,4.18 0 0 1 439.40,219.30 A8.55,8.55 0 0 1 424.60,224.10 A8.89,8.89 0 0 1 407.60,227.50 A9.40,9.40 0 0 1 389.20,228.20 A8.79,8.79 0 0 1 372.10,225.60 A7.66,7.66 0 0 1 358.00,221.90 A3.15,3.15 0 0 1 352.10,220.80 A4.41,4.41 0 0 1 349.20,213.40 A3.11,3.11 0 0 1 348.10,207.50 Z" fill="#e6e6e6" stroke="#737373" stroke-width="1.8"/>
<text transform="translate(370.05,211.40) scale(0.1455,0.1022)" font-size="100" font-style="italic" fill="#333333" stroke="#333333" stroke-width="1.5">f</text>
<text transform="translate(376.37,214.60) scale(0.1211,0.1000)" font-size="100" fill="#333333" stroke="#333333" stroke-width="1.5">1</text>
<text transform="translate(384.84,211.38) scale(0.1020,0.1033)" font-size="100" fill="#333333" stroke="#333333" stroke-width="1.5">(</text>
<text transform="translate(389.73,211.52) scale(0.1400,0.1110)" font-size="100" font-style="italic" fill="#333333" stroke="#333333" stroke-width="1.5">Q</text>
<text transform="translate(401.19,213.30) scale(0.1289,0.0935)" font-size="100" font-style="italic" fill="#333333" stroke="#333333" stroke-width="1.5">x</text>
<text transform="translate(408.88,216.30) scale(0.1150,0.0848)" font-size="100" fill="#333333" stroke="#333333" stroke-width="1.5">2</text>
<text transform="translate(418.30,211.38) scale(0.1000,0.1033)" font-size="100" fill="#333333" stroke="#333333" stroke-width="1.5">)</text>
<path d="M348.10,270.60 A6.10,6.10 0 0 1 356.20,263.90 A7.83,7.83 0 0 1 369.60,257.90 A9.40,9.40 0 0 1 386.20,254.20 A10.85,10.85 0 0 1 405.30,254.20 A16.04,16.04 0 0 1 432.70,260.90 A7.82,7.82 0 0 1 443.50,269.60 A3.41,3.41 0 0 1 443.10,275.80 A4.18,4.18 0 0 1 439.40,282.40 A8.55,8.55 0 0 1 424.60,287.20 A8.89,8.89 0 0 1 407.60,290.60 A9.40,9.40 0 0 1 389.20,291.30 A8.79,8.79 0 0 1 372.10,288.70 A7.66,7.66 0 0 1 358.00,285.00 A3.15,3.15 0 0 1 352.10,283.90 A4.41,4.41 0 0 1 349.20,276.50 A3.11,3.11 0 0 1 348.10,270.60 Z" fill="#e6e6e6" stroke="#737373" stroke-width="1.8"/>
<text transform="translate(370.05,274.50) scale(0.1455,0.1022)" font-size="100" font-style="italic" fill="#333333" stroke="#333333" stroke-width="1.5">f</text>
<text transform="translate(376.92,277.70) scale(0.1075,0.1000)" font-size="100" fill="#333333" stroke="#333333" stroke-width="1.5">2</text>
<text transform="translate(384.84,274.48) scale(0.1020,0.1033)" font-size="100" fill="#333333" stroke="#333333" stroke-width="1.5">(</text>
<text transform="translate(389.73,274.62) scale(0.1400,0.1110)" font-size="100" font-style="italic" fill="#333333" stroke="#333333" stroke-width="1.5">Q</text>
<text transform="translate(401.19,276.40) scale(0.1289,0.0935)" font-size="100" font-style="italic" fill="#333333" stroke="#333333" stroke-width="1.5">x</text>
<text transform="translate(408.88,279.40) scale(0.1150,0.0848)" font-size="100" fill="#333333" stroke="#333333" stroke-width="1.5">2</text>
<text transform="translate(418.30,274.48) scale(0.1000,0.1033)" font-size="100" fill="#333333" stroke="#333333" stroke-width="1.5">)</text>
<line x1="447.80" y1="210.00" x2="462.40" y2="210.00" stroke="#737373" stroke-width="1.7"/>
<path transform="translate(463.00,210.00) rotate(0.00)" d="M-4.3,-4.4 Q-1.4,-1.3 0,0 Q-1.4,1.3 -4.3,4.4" fill="none" stroke="#737373" stroke-width="1.55" stroke-linecap="round"/>
<line x1="447.80" y1="273.00" x2="462.40" y2="273.00" stroke="#737373" stroke-width="1.7"/>
<path transform="translate(463.00,273.00) rotate(0.00)" d="M-4.3,-4.4 Q-1.4,-1.3 0,0 Q-1.4,1.3 -4.3,4.4" fill="none" stroke="#737373" stroke-width="1.55" stroke-linecap="round"/>
<rect x="485.10" y="186.80" width="11.55" height="10.70" fill="#7c7cf6" stroke="#141462" stroke-width="1.2"/>
<rect x="496.65" y="186.80" width="11.55" height="10.70" fill="#7c7cf6" stroke="#141462" stroke-width="1.2"/>
<rect x="508.20" y="186.80" width="11.55" height="10.70" fill="#7c7cf6" stroke="#141462" stroke-width="1.2"/>
<rect x="519.75" y="186.80" width="11.55" height="10.70" fill="#7c7cf6" stroke="#141462" stroke-width="1.2"/>
<rect x="531.30" y="186.80" width="11.55" height="10.70" fill="#7c7cf6" stroke="#141462" stroke-width="1.2"/>
<rect x="542.85" y="186.80" width="11.55" height="10.70" fill="#7c7cf6" stroke="#141462" stroke-width="1.2"/>
<rect x="554.40" y="186.80" width="11.55" height="10.70" fill="#7c7cf6" stroke="#141462" stroke-width="1.2"/>
<rect x="565.95" y="186.80" width="11.55" height="10.70" fill="#7c7cf6" stroke="#141462" stroke-width="1.2"/>
<rect x="479.45" y="192.50" width="11.55" height="10.70" fill="#7c7cf6" stroke="#141462" stroke-width="1.2"/>
<rect x="491.00" y="192.50" width="11.55" height="10.70" fill="#7c7cf6" stroke="#141462" stroke-width="1.2"/>
<rect x="502.55" y="192.50" width="11.55" height="10.70" fill="#7c7cf6" stroke="#141462" stroke-width="1.2"/>
<rect x="514.10" y="192.50" width="11.55" height="10.70" fill="#7c7cf6" stroke="#141462" stroke-width="1.2"/>
<rect x="525.65" y="192.50" width="11.55" height="10.70" fill="#7c7cf6" stroke="#141462" stroke-width="1.2"/>
<rect x="537.20" y="192.50" width="11.55" height="10.70" fill="#7c7cf6" stroke="#141462" stroke-width="1.2"/>
<rect x="548.75" y="192.50" width="11.55" height="10.70" fill="#7c7cf6" stroke="#141462" stroke-width="1.2"/>
<rect x="560.30" y="192.50" width="11.55" height="10.70" fill="#7c7cf6" stroke="#141462" stroke-width="1.2"/>
<rect x="461.90" y="218.10" width="11.55" height="10.70" fill="#7c7cf6" stroke="#141462" stroke-width="1.2"/>
<rect x="473.45" y="218.10" width="11.55" height="10.70" fill="#7c7cf6" stroke="#141462" stroke-width="1.2"/>
<rect x="485.00" y="218.10" width="11.55" height="10.70" fill="#7c7cf6" stroke="#141462" stroke-width="1.2"/>
<rect x="496.55" y="218.10" width="11.55" height="10.70" fill="#7c7cf6" stroke="#141462" stroke-width="1.2"/>
<rect x="508.10" y="218.10" width="11.55" height="10.70" fill="#7c7cf6" stroke="#141462" stroke-width="1.2"/>
<rect x="519.65" y="218.10" width="11.55" height="10.70" fill="#7c7cf6" stroke="#141462" stroke-width="1.2"/>
<rect x="531.20" y="218.10" width="11.55" height="10.70" fill="#7c7cf6" stroke="#141462" stroke-width="1.2"/>
<rect x="542.75" y="218.10" width="11.55" height="10.70" fill="#7c7cf6" stroke="#141462" stroke-width="1.2"/>
<rect x="456.25" y="223.80" width="11.55" height="10.70" fill="#7c7cf6" stroke="#141462" stroke-width="1.2"/>
<rect x="467.80" y="223.80" width="11.55" height="10.70" fill="#7c7cf6" stroke="#141462" stroke-width="1.2"/>
<rect x="479.35" y="223.80" width="11.55" height="10.70" fill="#7c7cf6" stroke="#141462" stroke-width="1.2"/>
<rect x="490.90" y="223.80" width="11.55" height="10.70" fill="#7c7cf6" stroke="#141462" stroke-width="1.2"/>
<rect x="502.45" y="223.80" width="11.55" height="10.70" fill="#7c7cf6" stroke="#141462" stroke-width="1.2"/>
<rect x="514.00" y="223.80" width="11.55" height="10.70" fill="#7c7cf6" stroke="#141462" stroke-width="1.2"/>
<rect x="525.55" y="223.80" width="11.55" height="10.70" fill="#7c7cf6" stroke="#141462" stroke-width="1.2"/>
<rect x="537.10" y="223.80" width="11.55" height="10.70" fill="#7c7cf6" stroke="#141462" stroke-width="1.2"/>
<rect x="485.10" y="249.80" width="11.55" height="10.70" fill="#86f386" stroke="#0f3a0f" stroke-width="1.2"/>
<rect x="496.65" y="249.80" width="11.55" height="10.70" fill="#86f386" stroke="#0f3a0f" stroke-width="1.2"/>
<rect x="508.20" y="249.80" width="11.55" height="10.70" fill="#86f386" stroke="#0f3a0f" stroke-width="1.2"/>
<rect x="519.75" y="249.80" width="11.55" height="10.70" fill="#86f386" stroke="#0f3a0f" stroke-width="1.2"/>
<rect x="531.30" y="249.80" width="11.55" height="10.70" fill="#86f386" stroke="#0f3a0f" stroke-width="1.2"/>
<rect x="542.85" y="249.80" width="11.55" height="10.70" fill="#86f386" stroke="#0f3a0f" stroke-width="1.2"/>
<rect x="554.40" y="249.80" width="11.55" height="10.70" fill="#86f386" stroke="#0f3a0f" stroke-width="1.2"/>
<rect x="565.95" y="249.80" width="11.55" height="10.70" fill="#86f386" stroke="#0f3a0f" stroke-width="1.2"/>
<rect x="479.45" y="255.50" width="11.55" height="10.70" fill="#86f386" stroke="#0f3a0f" stroke-width="1.2"/>
<rect x="491.00" y="255.50" width="11.55" height="10.70" fill="#86f386" stroke="#0f3a0f" stroke-width="1.2"/>
<rect x="502.55" y="255.50" width="11.55" height="10.70" fill="#86f386" stroke="#0f3a0f" stroke-width="1.2"/>
<rect x="514.10" y="255.50" width="11.55" height="10.70" fill="#86f386" stroke="#0f3a0f" stroke-width="1.2"/>
<rect x="525.65" y="255.50" width="11.55" height="10.70" fill="#86f386" stroke="#0f3a0f" stroke-width="1.2"/>
<rect x="537.20" y="255.50" width="11.55" height="10.70" fill="#86f386" stroke="#0f3a0f" stroke-width="1.2"/>
<rect x="548.75" y="255.50" width="11.55" height="10.70" fill="#86f386" stroke="#0f3a0f" stroke-width="1.2"/>
<rect x="560.30" y="255.50" width="11.55" height="10.70" fill="#86f386" stroke="#0f3a0f" stroke-width="1.2"/>
<rect x="461.90" y="281.10" width="11.55" height="10.70" fill="#86f386" stroke="#0f3a0f" stroke-width="1.2"/>
<rect x="473.45" y="281.10" width="11.55" height="10.70" fill="#86f386" stroke="#0f3a0f" stroke-width="1.2"/>
<rect x="485.00" y="281.10" width="11.55" height="10.70" fill="#86f386" stroke="#0f3a0f" stroke-width="1.2"/>
<rect x="496.55" y="281.10" width="11.55" height="10.70" fill="#86f386" stroke="#0f3a0f" stroke-width="1.2"/>
<rect x="508.10" y="281.10" width="11.55" height="10.70" fill="#86f386" stroke="#0f3a0f" stroke-width="1.2"/>
<rect x="519.65" y="281.10" width="11.55" height="10.70" fill="#86f386" stroke="#0f3a0f" stroke-width="1.2"/>
<rect x="531.20" y="281.10" width="11.55" height="10.70" fill="#86f386" stroke="#0f3a0f" stroke-width="1.2"/>
<rect x="542.75" y="281.10" width="11.55" height="10.70" fill="#86f386" stroke="#0f3a0f" stroke-width="1.2"/>
<rect x="456.25" y="286.80" width="11.55" height="10.70" fill="#86f386" stroke="#0f3a0f" stroke-width="1.2"/>
<rect x="467.80" y="286.80" width="11.55" height="10.70" fill="#86f386" stroke="#0f3a0f" stroke-width="1.2"/>
<rect x="479.35" y="286.80" width="11.55" height="10.70" fill="#86f386" stroke="#0f3a0f" stroke-width="1.2"/>
<rect x="490.90" y="286.80" width="11.55" height="10.70" fill="#86f386" stroke="#0f3a0f" stroke-width="1.2"/>
<rect x="502.45" y="286.80" width="11.55" height="10.70" fill="#86f386" stroke="#0f3a0f" stroke-width="1.2"/>
<rect x="514.00" y="286.80" width="11.55" height="10.70" fill="#86f386" stroke="#0f3a0f" stroke-width="1.2"/>
<rect x="525.55" y="286.80" width="11.55" height="10.70" fill="#86f386" stroke="#0f3a0f" stroke-width="1.2"/>
<rect x="537.10" y="286.80" width="11.55" height="10.70" fill="#86f386" stroke="#0f3a0f" stroke-width="1.2"/>
<circle cx="501.9" cy="213.00" r="2.2" fill="#000"/>
<circle cx="507.6" cy="210.30" r="2.2" fill="#000"/>
<circle cx="513.3" cy="207.70" r="2.2" fill="#000"/>
<circle cx="501.9" cy="276.40" r="2.2" fill="#000"/>
<circle cx="507.6" cy="273.70" r="2.2" fill="#000"/>
<circle cx="513.3" cy="271.10" r="2.2" fill="#000"/>
<line x1="580.30" y1="227.60" x2="606.64" y2="234.81" stroke="#737373" stroke-width="1.7"/>
<path transform="translate(607.22,234.97) rotate(15.31)" d="M-4.3,-4.4 Q-1.4,-1.3 0,0 Q-1.4,1.3 -4.3,4.4" fill="none" stroke="#737373" stroke-width="1.55" stroke-linecap="round"/>
<line x1="580.30" y1="255.40" x2="606.65" y2="247.56" stroke="#737373" stroke-width="1.7"/>
<path transform="translate(607.22,247.39) rotate(-16.56)" d="M-4.3,-4.4 Q-1.4,-1.3 0,0 Q-1.4,1.3 -4.3,4.4" fill="none" stroke="#737373" stroke-width="1.55" stroke-linecap="round"/>
<circle cx="630.8" cy="241.7" r="20.3" fill="#f88282"/>
<line x1="616.18" y1="227.08" x2="645.42" y2="256.32" stroke="#6e1c1c" stroke-width="1.5"/>
<line x1="645.42" y1="227.08" x2="616.18" y2="256.32" stroke="#6e1c1c" stroke-width="1.5"/>
<line x1="654.60" y1="241.40" x2="714.60" y2="241.40" stroke="#737373" stroke-width="1.7"/>
<path transform="translate(715.20,241.40) rotate(0.00)" d="M-4.3,-4.4 Q-1.4,-1.3 0,0 Q-1.4,1.3 -4.3,4.4" fill="none" stroke="#737373" stroke-width="1.55" stroke-linecap="round"/>
<line x1="193.70" y1="349.60" x2="223.76" y2="339.55" stroke="#737373" stroke-width="1.7"/>
<path transform="translate(224.33,339.36) rotate(-18.49)" d="M-4.3,-4.4 Q-1.4,-1.3 0,0 Q-1.4,1.3 -4.3,4.4" fill="none" stroke="#737373" stroke-width="1.55" stroke-linecap="round"/>
<line x1="194.40" y1="362.60" x2="223.20" y2="389.45" stroke="#737373" stroke-width="1.7"/>
<path transform="translate(223.63,389.86) rotate(43.00)" d="M-4.3,-4.4 Q-1.4,-1.3 0,0 Q-1.4,1.3 -4.3,4.4" fill="none" stroke="#737373" stroke-width="1.55" stroke-linecap="round"/>
<rect x="232.65" y="325.40" width="11.55" height="10.70" fill="#7c7cf6" stroke="#141462" stroke-width="1.2"/>
<rect x="244.20" y="325.40" width="11.55" height="10.70" fill="#7c7cf6" stroke="#141462" stroke-width="1.2"/>
<rect x="255.75" y="325.40" width="11.55" height="10.70" fill="#7c7cf6" stroke="#141462" stroke-width="1.2"/>
<rect x="267.30" y="325.40" width="11.55" height="10.70" fill="#7c7cf6" stroke="#141462" stroke-width="1.2"/>
<rect x="278.85" y="325.40" width="11.55" height="10.70" fill="#7c7cf6" stroke="#141462" stroke-width="1.2"/>
<rect x="290.40" y="325.40" width="11.55" height="10.70" fill="#7c7cf6" stroke="#141462" stroke-width="1.2"/>
<rect x="301.95" y="325.40" width="11.55" height="10.70" fill="#7c7cf6" stroke="#141462" stroke-width="1.2"/>
<rect x="313.50" y="325.40" width="11.55" height="10.70" fill="#7c7cf6" stroke="#141462" stroke-width="1.2"/>
<rect x="227.00" y="331.10" width="11.55" height="10.70" fill="#7c7cf6" stroke="#141462" stroke-width="1.2"/>
<rect x="238.55" y="331.10" width="11.55" height="10.70" fill="#7c7cf6" stroke="#141462" stroke-width="1.2"/>
<rect x="250.10" y="331.10" width="11.55" height="10.70" fill="#7c7cf6" stroke="#141462" stroke-width="1.2"/>
<rect x="261.65" y="331.10" width="11.55" height="10.70" fill="#7c7cf6" stroke="#141462" stroke-width="1.2"/>
<rect x="273.20" y="331.10" width="11.55" height="10.70" fill="#7c7cf6" stroke="#141462" stroke-width="1.2"/>
<rect x="284.75" y="331.10" width="11.55" height="10.70" fill="#7c7cf6" stroke="#141462" stroke-width="1.2"/>
<rect x="296.30" y="331.10" width="11.55" height="10.70" fill="#7c7cf6" stroke="#141462" stroke-width="1.2"/>
<rect x="307.85" y="331.10" width="11.55" height="10.70" fill="#7c7cf6" stroke="#141462" stroke-width="1.2"/>
<rect x="221.35" y="336.80" width="11.55" height="10.70" fill="#7c7cf6" stroke="#141462" stroke-width="1.2"/>
<rect x="232.90" y="336.80" width="11.55" height="10.70" fill="#7c7cf6" stroke="#141462" stroke-width="1.2"/>
<rect x="244.45" y="336.80" width="11.55" height="10.70" fill="#7c7cf6" stroke="#141462" stroke-width="1.2"/>
<rect x="256.00" y="336.80" width="11.55" height="10.70" fill="#7c7cf6" stroke="#141462" stroke-width="1.2"/>
<rect x="267.55" y="336.80" width="11.55" height="10.70" fill="#7c7cf6" stroke="#141462" stroke-width="1.2"/>
<rect x="279.10" y="336.80" width="11.55" height="10.70" fill="#7c7cf6" stroke="#141462" stroke-width="1.2"/>
<rect x="290.65" y="336.80" width="11.55" height="10.70" fill="#7c7cf6" stroke="#141462" stroke-width="1.2"/>
<rect x="302.20" y="336.80" width="11.55" height="10.70" fill="#7c7cf6" stroke="#141462" stroke-width="1.2"/>
<rect x="230.00" y="391.30" width="11.55" height="10.70" fill="#86f386" stroke="#0f3a0f" stroke-width="1.2"/>
<rect x="241.55" y="391.30" width="11.55" height="10.70" fill="#86f386" stroke="#0f3a0f" stroke-width="1.2"/>
<rect x="253.10" y="391.30" width="11.55" height="10.70" fill="#86f386" stroke="#0f3a0f" stroke-width="1.2"/>
<rect x="264.65" y="391.30" width="11.55" height="10.70" fill="#86f386" stroke="#0f3a0f" stroke-width="1.2"/>
<rect x="276.20" y="391.30" width="11.55" height="10.70" fill="#86f386" stroke="#0f3a0f" stroke-width="1.2"/>
<rect x="287.75" y="391.30" width="11.55" height="10.70" fill="#86f386" stroke="#0f3a0f" stroke-width="1.2"/>
<rect x="299.30" y="391.30" width="11.55" height="10.70" fill="#86f386" stroke="#0f3a0f" stroke-width="1.2"/>
<rect x="310.85" y="391.30" width="11.55" height="10.70" fill="#86f386" stroke="#0f3a0f" stroke-width="1.2"/>
<rect x="224.35" y="397.00" width="11.55" height="10.70" fill="#86f386" stroke="#0f3a0f" stroke-width="1.2"/>
<rect x="235.90" y="397.00" width="11.55" height="10.70" fill="#86f386" stroke="#0f3a0f" stroke-width="1.2"/>
<rect x="247.45" y="397.00" width="11.55" height="10.70" fill="#86f386" stroke="#0f3a0f" stroke-width="1.2"/>
<rect x="259.00" y="397.00" width="11.55" height="10.70" fill="#86f386" stroke="#0f3a0f" stroke-width="1.2"/>
<rect x="270.55" y="397.00" width="11.55" height="10.70" fill="#86f386" stroke="#0f3a0f" stroke-width="1.2"/>
<rect x="282.10" y="397.00" width="11.55" height="10.70" fill="#86f386" stroke="#0f3a0f" stroke-width="1.2"/>
<rect x="293.65" y="397.00" width="11.55" height="10.70" fill="#86f386" stroke="#0f3a0f" stroke-width="1.2"/>
<rect x="305.20" y="397.00" width="11.55" height="10.70" fill="#86f386" stroke="#0f3a0f" stroke-width="1.2"/>
<line x1="328.20" y1="335.75" x2="342.40" y2="335.75" stroke="#737373" stroke-width="1.7"/>
<path transform="translate(343.00,335.75) rotate(0.00)" d="M-4.3,-4.4 Q-1.4,-1.3 0,0 Q-1.4,1.3 -4.3,4.4" fill="none" stroke="#737373" stroke-width="1.55" stroke-linecap="round"/>
<line x1="325.40" y1="399.20" x2="342.40" y2="399.20" stroke="#737373" stroke-width="1.7"/>
<path transform="translate(343.00,399.20) rotate(0.00)" d="M-4.3,-4.4 Q-1.4,-1.3 0,0 Q-1.4,1.3 -4.3,4.4" fill="none" stroke="#737373" stroke-width="1.55" stroke-linecap="round"/>
<path d="M348.10,333.50 A6.10,6.10 0 0 1 356.20,326.80 A7.83,7.83 0 0 1 369.60,320.80 A9.40,9.40 0 0 1 386.20,317.10 A10.85,10.85 0 0 1 405.30,317.10 A16.04,16.04 0 0 1 432.70,323.80 A7.82,7.82 0 0 1 443.50,332.50 A3.41,3.41 0 0 1 443.10,338.70 A4.18,4.18 0 0 1 439.40,345.30 A8.55,8.55 0 0 1 424.60,350.10 A8.89,8.89 0 0 1 407.60,353.50 A9.40,9.40 0 0 1 389.20,354.20 A8.79,8.79 0 0 1 372.10,351.60 A7.66,7.66 0 0 1 358.00,347.90 A3.15,3.15 0 0 1 352.10,346.80 A4.41,4.41 0 0 1 349.20,339.40 A3.11,3.11 0 0 1 348.10,333.50 Z" fill="#e6e6e6" stroke="#737373" stroke-width="1.8"/>
<text transform="translate(370.05,337.40) scale(0.1455,0.1022)" font-size="100" font-style="italic" fill="#333333" stroke="#333333" stroke-width="1.5">f</text>
<text transform="translate(376.37,340.60) scale(0.1211,0.1000)" font-size="100" fill="#333333" stroke="#333333" stroke-width="1.5">1</text>
<text transform="translate(384.84,337.38) scale(0.1020,0.1033)" font-size="100" fill="#333333" stroke="#333333" stroke-width="1.5">(</text>
<text transform="translate(389.73,337.52) scale(0.1400,0.1110)" font-size="100" font-style="italic" fill="#333333" stroke="#333333" stroke-width="1.5">Q</text>
<text transform="translate(401.19,339.30) scale(0.1289,0.0935)" font-size="100" font-style="italic" fill="#333333" stroke="#333333" stroke-width="1.5">x</text>
<text transform="translate(408.90,342.22) scale(0.1108,0.0836)" font-size="100" fill="#333333" stroke="#333333" stroke-width="1.5">3</text>
<text transform="translate(418.30,337.38) scale(0.1000,0.1033)" font-size="100" fill="#333333" stroke="#333333" stroke-width="1.5">)</text>
<path d="M348.10,396.60 A6.10,6.10 0 0 1 356.20,389.90 A7.83,7.83 0 0 1 369.60,383.90 A9.40,9.40 0 0 1 386.20,380.20 A10.85,10.85 0 0 1 405.30,380.20 A16.04,16.04 0 0 1 432.70,386.90 A7.82,7.82 0 0 1 443.50,395.60 A3.41,3.41 0 0 1 443.10,401.80 A4.18,4.18 0 0 1 439.40,408.40 A8.55,8.55 0 0 1 424.60,413.20 A8.89,8.89 0 0 1 407.60,416.60 A9.40,9.40 0 0 1 389.20,417.30 A8.79,8.79 0 0 1 372.10,414.70 A7.66,7.66 0 0 1 358.00,411.00 A3.15,3.15 0 0 1 352.10,409.90 A4.41,4.41 0 0 1 349.20,402.50 A3.11,3.11 0 0 1 348.10,396.60 Z" fill="#e6e6e6" stroke="#737373" stroke-width="1.8"/>
<text transform="translate(370.05,400.50) scale(0.1455,0.1022)" font-size="100" font-style="italic" fill="#333333" stroke="#333333" stroke-width="1.5">f</text>
<text transform="translate(376.92,403.70) scale(0.1075,0.1000)" font-size="100" fill="#333333" stroke="#333333" stroke-width="1.5">2</text>
<text transform="translate(384.84,400.48) scale(0.1020,0.1033)" font-size="100" fill="#333333" stroke="#333333" stroke-width="1.5">(</text>
<text transform="translate(389.73,400.62) scale(0.1400,0.1110)" font-size="100" font-style="italic" fill="#333333" stroke="#333333" stroke-width="1.5">Q</text>
<text transform="translate(401.19,402.40) scale(0.1289,0.0935)" font-size="100" font-style="italic" fill="#333333" stroke="#333333" stroke-width="1.5">x</text>
<text transform="translate(408.90,405.32) scale(0.1108,0.0836)" font-size="100" fill="#333333" stroke="#333333" stroke-width="1.5">3</text>
<text transform="translate(418.30,400.48) scale(0.1000,0.1033)" font-size="100" fill="#333333" stroke="#333333" stroke-width="1.5">)</text>
<line x1="447.80" y1="336.00" x2="462.40" y2="336.00" stroke="#737373" stroke-width="1.7"/>
<path transform="translate(463.00,336.00) rotate(0.00)" d="M-4.3,-4.4 Q-1.4,-1.3 0,0 Q-1.4,1.3 -4.3,4.4" fill="none" stroke="#737373" stroke-width="1.55" stroke-linecap="round"/>
<line x1="447.80" y1="399.00" x2="462.40" y2="399.00" stroke="#737373" stroke-width="1.7"/>
<path transform="translate(463.00,399.00) rotate(0.00)" d="M-4.3,-4.4 Q-1.4,-1.3 0,0 Q-1.4,1.3 -4.3,4.4" fill="none" stroke="#737373" stroke-width="1.55" stroke-linecap="round"/>
<rect x="485.10" y="312.80" width="11.55" height="10.70" fill="#7c7cf6" stroke="#141462" stroke-width="1.2"/>
<rect x="496.65" y="312.80" width="11.55" height="10.70" fill="#7c7cf6" stroke="#141462" stroke-width="1.2"/>
<rect x="508.20" y="312.80" width="11.55" height="10.70" fill="#7c7cf6" stroke="#141462" stroke-width="1.2"/>
<rect x="519.75" y="312.80" width="11.55" height="10.70" fill="#7c7cf6" stroke="#141462" stroke-width="1.2"/>
<rect x="531.30" y="312.80" width="11.55" height="10.70" fill="#7c7cf6" stroke="#141462" stroke-width="1.2"/>
<rect x="542.85" y="312.80" width="11.55" height="10.70" fill="#7c7cf6" stroke="#141462" stroke-width="1.2"/>
<rect x="554.40" y="312.80" width="11.55" height="10.70" fill="#7c7cf6" stroke="#141462" stroke-width="1.2"/>
<rect x="565.95" y="312.80" width="11.55" height="10.70" fill="#7c7cf6" stroke="#141462" stroke-width="1.2"/>
<rect x="479.45" y="318.50" width="11.55" height="10.70" fill="#7c7cf6" stroke="#141462" stroke-width="1.2"/>
<rect x="491.00" y="318.50" width="11.55" height="10.70" fill="#7c7cf6" stroke="#141462" stroke-width="1.2"/>
<rect x="502.55" y="318.50" width="11.55" height="10.70" fill="#7c7cf6" stroke="#141462" stroke-width="1.2"/>
<rect x="514.10" y="318.50" width="11.55" height="10.70" fill="#7c7cf6" stroke="#141462" stroke-width="1.2"/>
<rect x="525.65" y="318.50" width="11.55" height="10.70" fill="#7c7cf6" stroke="#141462" stroke-width="1.2"/>
<rect x="537.20" y="318.50" width="11.55" height="10.70" fill="#7c7cf6" stroke="#141462" stroke-width="1.2"/>
<rect x="548.75" y="318.50" width="11.55" height="10.70" fill="#7c7cf6" stroke="#141462" stroke-width="1.2"/>
<rect x="560.30" y="318.50" width="11.55" height="10.70" fill="#7c7cf6" stroke="#141462" stroke-width="1.2"/>
<rect x="461.90" y="344.10" width="11.55" height="10.70" fill="#7c7cf6" stroke="#141462" stroke-width="1.2"/>
<rect x="473.45" y="344.10" width="11.55" height="10.70" fill="#7c7cf6" stroke="#141462" stroke-width="1.2"/>
<rect x="485.00" y="344.10" width="11.55" height="10.70" fill="#7c7cf6" stroke="#141462" stroke-width="1.2"/>
<rect x="496.55" y="344.10" width="11.55" height="10.70" fill="#7c7cf6" stroke="#141462" stroke-width="1.2"/>
<rect x="508.10" y="344.10" width="11.55" height="10.70" fill="#7c7cf6" stroke="#141462" stroke-width="1.2"/>
<rect x="519.65" y="344.10" width="11.55" height="10.70" fill="#7c7cf6" stroke="#141462" stroke-width="1.2"/>
<rect x="531.20" y="344.10" width="11.55" height="10.70" fill="#7c7cf6" stroke="#141462" stroke-width="1.2"/>
<rect x="542.75" y="344.10" width="11.55" height="10.70" fill="#7c7cf6" stroke="#141462" stroke-width="1.2"/>
<rect x="456.25" y="349.80" width="11.55" height="10.70" fill="#7c7cf6" stroke="#141462" stroke-width="1.2"/>
<rect x="467.80" y="349.80" width="11.55" height="10.70" fill="#7c7cf6" stroke="#141462" stroke-width="1.2"/>
<rect x="479.35" y="349.80" width="11.55" height="10.70" fill="#7c7cf6" stroke="#141462" stroke-width="1.2"/>
<rect x="490.90" y="349.80" width="11.55" height="10.70" fill="#7c7cf6" stroke="#141462" stroke-width="1.2"/>
<rect x="502.45" y="349.80" width="11.55" height="10.70" fill="#7c7cf6" stroke="#141462" stroke-width="1.2"/>
<rect x="514.00" y="349.80" width="11.55" height="10.70" fill="#7c7cf6" stroke="#141462" stroke-width="1.2"/>
<rect x="525.55" y="349.80" width="11.55" height="10.70" fill="#7c7cf6" stroke="#141462" stroke-width="1.2"/>
<rect x="537.10" y="349.80" width="11.55" height="10.70" fill="#7c7cf6" stroke="#141462" stroke-width="1.2"/>
<rect x="485.10" y="375.80" width="11.55" height="10.70" fill="#86f386" stroke="#0f3a0f" stroke-width="1.2"/>
<rect x="496.65" y="375.80" width="11.55" height="10.70" fill="#86f386" stroke="#0f3a0f" stroke-width="1.2"/>
<rect x="508.20" y="375.80" width="11.55" height="10.70" fill="#86f386" stroke="#0f3a0f" stroke-width="1.2"/>
<rect x="519.75" y="375.80" width="11.55" height="10.70" fill="#86f386" stroke="#0f3a0f" stroke-width="1.2"/>
<rect x="531.30" y="375.80" width="11.55" height="10.70" fill="#86f386" stroke="#0f3a0f" stroke-width="1.2"/>
<rect x="542.85" y="375.80" width="11.55" height="10.70" fill="#86f386" stroke="#0f3a0f" stroke-width="1.2"/>
<rect x="554.40" y="375.80" width="11.55" height="10.70" fill="#86f386" stroke="#0f3a0f" stroke-width="1.2"/>
<rect x="565.95" y="375.80" width="11.55" height="10.70" fill="#86f386" stroke="#0f3a0f" stroke-width="1.2"/>
<rect x="479.45" y="381.50" width="11.55" height="10.70" fill="#86f386" stroke="#0f3a0f" stroke-width="1.2"/>
<rect x="491.00" y="381.50" width="11.55" height="10.70" fill="#86f386" stroke="#0f3a0f" stroke-width="1.2"/>
<rect x="502.55" y="381.50" width="11.55" height="10.70" fill="#86f386" stroke="#0f3a0f" stroke-width="1.2"/>
<rect x="514.10" y="381.50" width="11.55" height="10.70" fill="#86f386" stroke="#0f3a0f" stroke-width="1.2"/>
<rect x="525.65" y="381.50" width="11.55" height="10.70" fill="#86f386" stroke="#0f3a0f" stroke-width="1.2"/>
<rect x="537.20" y="381.50" width="11.55" height="10.70" fill="#86f386" stroke="#0f3a0f" stroke-width="1.2"/>
<rect x="548.75" y="381.50" width="11.55" height="10.70" fill="#86f386" stroke="#0f3a0f" stroke-width="1.2"/>
<rect x="560.30" y="381.50" width="11.55" height="10.70" fill="#86f386" stroke="#0f3a0f" stroke-width="1.2"/>
<rect x="461.90" y="407.10" width="11.55" height="10.70" fill="#86f386" stroke="#0f3a0f" stroke-width="1.2"/>
<rect x="473.45" y="407.10" width="11.55" height="10.70" fill="#86f386" stroke="#0f3a0f" stroke-width="1.2"/>
<rect x="485.00" y="407.10" width="11.55" height="10.70" fill="#86f386" stroke="#0f3a0f" stroke-width="1.2"/>
<rect x="496.55" y="407.10" width="11.55" height="10.70" fill="#86f386" stroke="#0f3a0f" stroke-width="1.2"/>
<rect x="508.10" y="407.10" width="11.55" height="10.70" fill="#86f386" stroke="#0f3a0f" stroke-width="1.2"/>
<rect x="519.65" y="407.10" width="11.55" height="10.70" fill="#86f386" stroke="#0f3a0f" stroke-width="1.2"/>
<rect x="531.20" y="407.10" width="11.55" height="10.70" fill="#86f386" stroke="#0f3a0f" stroke-width="1.2"/>
<rect x="542.75" y="407.10" width="11.55" height="10.70" fill="#86f386" stroke="#0f3a0f" stroke-width="1.2"/>
<rect x="456.25" y="412.80" width="11.55" height="10.70" fill="#86f386" stroke="#0f3a0f" stroke-width="1.2"/>
<rect x="467.80" y="412.80" width="11.55" height="10.70" fill="#86f386" stroke="#0f3a0f" stroke-width="1.2"/>
<rect x="479.35" y="412.80" width="11.55" height="10.70" fill="#86f386" stroke="#0f3a0f" stroke-width="1.2"/>
<rect x="490.90" y="412.80" width="11.55" height="10.70" fill="#86f386" stroke="#0f3a0f" stroke-width="1.2"/>
<rect x="502.45" y="412.80" width="11.55" height="10.70" fill="#86f386" stroke="#0f3a0f" stroke-width="1.2"/>
<rect x="514.00" y="412.80" width="11.55" height="10.70" fill="#86f386" stroke="#0f3a0f" stroke-width="1.2"/>
<rect x="525.55" y="412.80" width="11.55" height="10.70" fill="#86f386" stroke="#0f3a0f" stroke-width="1.2"/>
<rect x="537.10" y="412.80" width="11.55" height="10.70" fill="#86f386" stroke="#0f3a0f" stroke-width="1.2"/>
<circle cx="501.9" cy="339.00" r="2.2" fill="#000"/>
<circle cx="507.6" cy="336.30" r="2.2" fill="#000"/>
<circle cx="513.3" cy="333.70" r="2.2" fill="#000"/>
<circle cx="501.9" cy="402.40" r="2.2" fill="#000"/>
<circle cx="507.6" cy="399.70" r="2.2" fill="#000"/>
<circle cx="513.3" cy="397.10" r="2.2" fill="#000"/>
<line x1="580.30" y1="353.60" x2="606.64" y2="360.81" stroke="#737373" stroke-width="1.7"/>
<path transform="translate(607.22,360.97) rotate(15.31)" d="M-4.3,-4.4 Q-1.4,-1.3 0,0 Q-1.4,1.3 -4.3,4.4" fill="none" stroke="#737373" stroke-width="1.55" stroke-linecap="round"/>
<line x1="580.30" y1="381.40" x2="606.65" y2="373.56" stroke="#737373" stroke-width="1.7"/>
<path transform="translate(607.22,373.39) rotate(-16.56)" d="M-4.3,-4.4 Q-1.4,-1.3 0,0 Q-1.4,1.3 -4.3,4.4" fill="none" stroke="#737373" stroke-width="1.55" stroke-linecap="round"/>
<circle cx="630.8" cy="367.7" r="20.3" fill="#f88282"/>
<line x1="616.18" y1="353.08" x2="645.42" y2="382.32" stroke="#6e1c1c" stroke-width="1.5"/>
<line x1="645.42" y1="353.08" x2="616.18" y2="382.32" stroke="#6e1c1c" stroke-width="1.5"/>
<line x1="654.60" y1="367.40" x2="714.60" y2="367.40" stroke="#737373" stroke-width="1.7"/>
<path transform="translate(715.20,367.40) rotate(0.00)" d="M-4.3,-4.4 Q-1.4,-1.3 0,0 Q-1.4,1.3 -4.3,4.4" fill="none" stroke="#737373" stroke-width="1.55" stroke-linecap="round"/>
<line x1="774.80" y1="147.90" x2="831.15" y2="208.10" stroke="#737373" stroke-width="1.7"/>
<path transform="translate(831.56,208.53) rotate(46.89)" d="M-4.3,-4.4 Q-1.4,-1.3 0,0 Q-1.4,1.3 -4.3,4.4" fill="none" stroke="#737373" stroke-width="1.55" stroke-linecap="round"/>
<line x1="774.50" y1="241.80" x2="830.60" y2="241.80" stroke="#737373" stroke-width="1.7"/>
<path transform="translate(831.20,241.80) rotate(0.00)" d="M-4.3,-4.4 Q-1.4,-1.3 0,0 Q-1.4,1.3 -4.3,4.4" fill="none" stroke="#737373" stroke-width="1.55" stroke-linecap="round"/>
<line x1="774.80" y1="335.70" x2="831.16" y2="274.31" stroke="#737373" stroke-width="1.7"/>
<path transform="translate(831.56,273.87) rotate(-47.45)" d="M-4.3,-4.4 Q-1.4,-1.3 0,0 Q-1.4,1.3 -4.3,4.4" fill="none" stroke="#737373" stroke-width="1.55" stroke-linecap="round"/>
</svg></body></html>
